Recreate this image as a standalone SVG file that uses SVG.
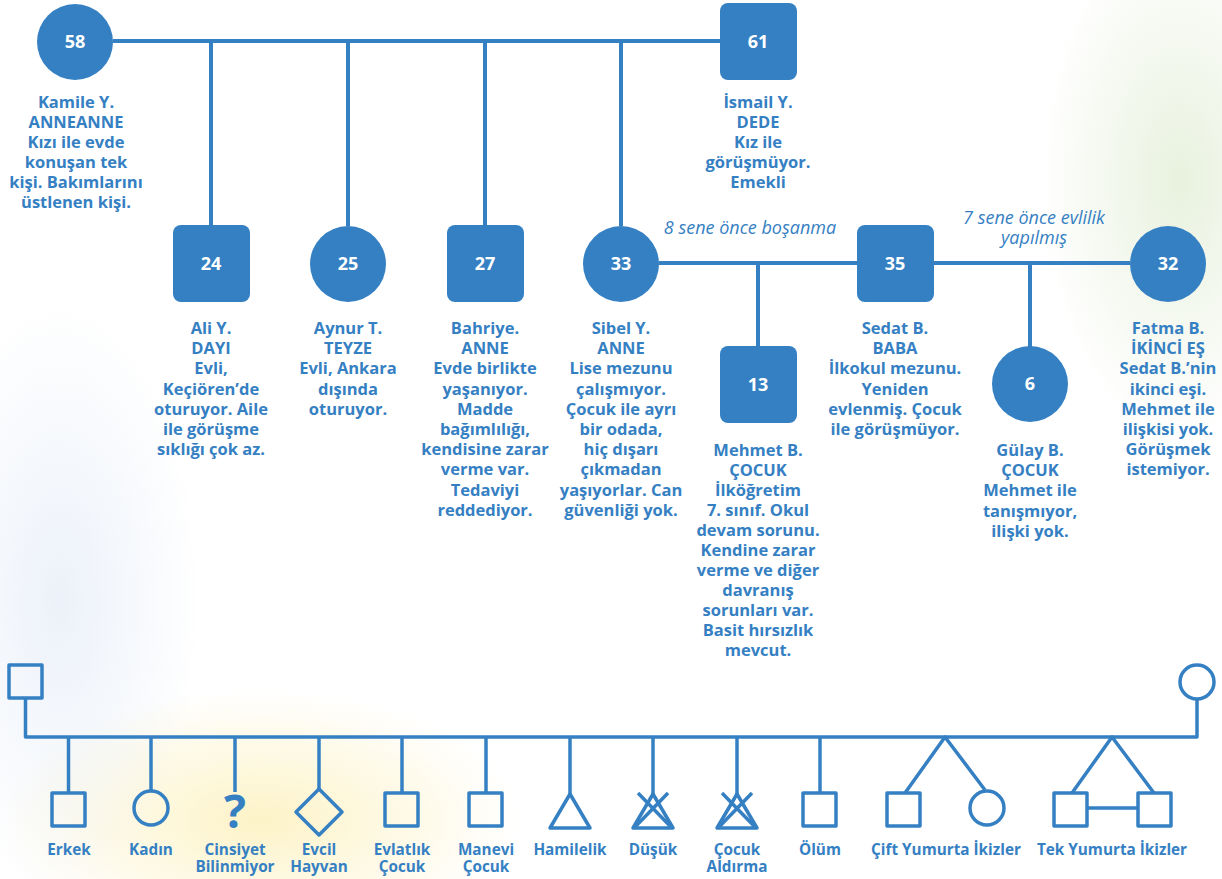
<svg xmlns="http://www.w3.org/2000/svg" width="1222" height="879" viewBox="0 0 1222 879">
<defs>
<style>
.ln{stroke:#3580c3;stroke-width:4;fill:none}
.lg{stroke:#3580c3;stroke-width:3.5;fill:none;stroke-linejoin:round}
.nd{fill:#3580c3}
.num{font-family:"Open Sans",sans-serif;font-weight:700;font-size:18px;fill:#ffffff;text-anchor:middle}
.lbl{font-family:"Open Sans",sans-serif;font-weight:700;font-size:16.5px;fill:#3580c3;text-anchor:middle}
.it{font-family:"Open Sans",sans-serif;font-style:italic;font-size:18px;fill:#3580c3;text-anchor:middle}
.lgt{font-family:"Open Sans",sans-serif;font-weight:700;font-size:15.3px;fill:#3580c3;text-anchor:middle}
</style>
<radialGradient id="gy" cx="0.5" cy="0.5" r="0.5"><stop offset="0" stop-color="#fbe99a" stop-opacity="0.55"/><stop offset="1" stop-color="#fbe99a" stop-opacity="0"/></radialGradient>
<radialGradient id="gg" cx="0.5" cy="0.5" r="0.5"><stop offset="0" stop-color="#d9e8c8" stop-opacity="0.6"/><stop offset="1" stop-color="#d9e8c8" stop-opacity="0"/></radialGradient>
<radialGradient id="gb" cx="0.5" cy="0.5" r="0.5"><stop offset="0" stop-color="#c9d8ef" stop-opacity="0.35"/><stop offset="1" stop-color="#c9d8ef" stop-opacity="0"/></radialGradient>
</defs>
<rect width="1222" height="879" fill="#ffffff"/>
<g id="background">
<ellipse cx="260" cy="820" rx="260" ry="130" fill="url(#gy)"/>
<ellipse cx="1180" cy="180" rx="140" ry="260" fill="url(#gg)"/>
<ellipse cx="60" cy="600" rx="140" ry="300" fill="url(#gb)"/>
</g>
<g id="connectors">
<line class="ln" x1="113" y1="41" x2="720" y2="41"/>
<line class="ln" x1="211" y1="41" x2="211" y2="226"/>
<line class="ln" x1="348" y1="41" x2="348" y2="226"/>
<line class="ln" x1="485" y1="41" x2="485" y2="226"/>
<line class="ln" x1="621" y1="41" x2="621" y2="226"/>
<line class="ln" x1="659" y1="263" x2="857" y2="263"/>
<line class="ln" x1="758" y1="263" x2="758" y2="347"/>
<line class="ln" x1="934" y1="263" x2="1130" y2="263"/>
<line class="ln" x1="1030" y1="263" x2="1030" y2="347"/>
</g>
<g id="n58"><circle class="nd" cx="75" cy="42" r="38"/><text class="num" x="75" y="48">58</text>
<text class="lbl" x="76" y="108">Kamile Y.<tspan x="76" dy="20">ANNEANNE</tspan><tspan x="76" dy="20">Kızı ile evde</tspan><tspan x="76" dy="20">konuşan tek</tspan><tspan x="76" dy="20">kişi. Bakımlarını</tspan><tspan x="76" dy="20">üstlenen kişi.</tspan></text></g>
<g id="n61"><rect class="nd" x="720" y="3" width="77" height="77" rx="8"/><text class="num" x="758" y="48">61</text>
<text class="lbl" x="758" y="108">İsmail Y.<tspan x="758" dy="20">DEDE</tspan><tspan x="758" dy="20">Kız ile</tspan><tspan x="758" dy="20">görüşmüyor.</tspan><tspan x="758" dy="20">Emekli</tspan></text></g>
<g id="n24"><rect class="nd" x="173" y="225" width="77" height="77" rx="8"/><text class="num" x="211" y="270">24</text>
<text class="lbl" x="211" y="334">Ali Y.<tspan x="211" dy="20.2">DAYI</tspan><tspan x="211" dy="20.2">Evli,</tspan><tspan x="211" dy="20.2">Keçiören’de</tspan><tspan x="211" dy="20.2">oturuyor. Aile</tspan><tspan x="211" dy="20.2">ile görüşme</tspan><tspan x="211" dy="20.2">sıklığı çok az.</tspan></text></g>
<g id="n25"><circle class="nd" cx="348" cy="264" r="38"/><text class="num" x="348" y="270">25</text>
<text class="lbl" x="348" y="334">Aynur T.<tspan x="348" dy="20.2">TEYZE</tspan><tspan x="348" dy="20.2">Evli, Ankara</tspan><tspan x="348" dy="20.2">dışında</tspan><tspan x="348" dy="20.2">oturuyor.</tspan></text></g>
<g id="n27"><rect class="nd" x="447" y="225" width="77" height="77" rx="8"/><text class="num" x="485" y="270">27</text>
<text class="lbl" x="485" y="334">Bahriye.<tspan x="485" dy="20.2">ANNE</tspan><tspan x="485" dy="20.2">Evde birlikte</tspan><tspan x="485" dy="20.2">yaşanıyor.</tspan><tspan x="485" dy="20.2">Madde</tspan><tspan x="485" dy="20.2">bağımlılığı,</tspan><tspan x="485" dy="20.2">kendisine zarar</tspan><tspan x="485" dy="20.2">verme var.</tspan><tspan x="485" dy="20.2">Tedaviyi</tspan><tspan x="485" dy="20.2">reddediyor.</tspan></text></g>
<g id="n33"><circle class="nd" cx="621" cy="264" r="38"/><text class="num" x="621" y="270">33</text>
<text class="lbl" x="621" y="334">Sibel Y.<tspan x="621" dy="20.2">ANNE</tspan><tspan x="621" dy="20.2">Lise mezunu</tspan><tspan x="621" dy="20.2">çalışmıyor.</tspan><tspan x="621" dy="20.2">Çocuk ile ayrı</tspan><tspan x="621" dy="20.2">bir odada,</tspan><tspan x="621" dy="20.2">hiç dışarı</tspan><tspan x="621" dy="20.2">çıkmadan</tspan><tspan x="621" dy="20.2">yaşıyorlar. Can</tspan><tspan x="621" dy="20.2">güvenliği yok.</tspan></text></g>
<g id="n35"><rect class="nd" x="857" y="225" width="77" height="77" rx="8"/><text class="num" x="895" y="270">35</text>
<text class="lbl" x="895" y="334">Sedat B.<tspan x="895" dy="20.2">BABA</tspan><tspan x="895" dy="20.2">İlkokul mezunu.</tspan><tspan x="895" dy="20.2">Yeniden</tspan><tspan x="895" dy="20.2">evlenmiş. Çocuk</tspan><tspan x="895" dy="20.2">ile görüşmüyor.</tspan></text></g>
<g id="n32"><circle class="nd" cx="1168" cy="264" r="38"/><text class="num" x="1168" y="270">32</text>
<text class="lbl" x="1168" y="334">Fatma B.<tspan x="1168" dy="20.2">İKİNCİ EŞ</tspan><tspan x="1168" dy="20.2">Sedat B.’nin</tspan><tspan x="1168" dy="20.2">ikinci eşi.</tspan><tspan x="1168" dy="20.2">Mehmet ile</tspan><tspan x="1168" dy="20.2">ilişkisi yok.</tspan><tspan x="1168" dy="20.2">Görüşmek</tspan><tspan x="1168" dy="20.2">istemiyor.</tspan></text></g>
<g id="n13"><rect class="nd" x="720" y="346" width="77" height="77" rx="8"/><text class="num" x="758" y="391">13</text>
<text class="lbl" x="758" y="456">Mehmet B.<tspan x="758" dy="20">ÇOCUK</tspan><tspan x="758" dy="20">İlköğretim</tspan><tspan x="758" dy="20">7. sınıf. Okul</tspan><tspan x="758" dy="20">devam sorunu.</tspan><tspan x="758" dy="20">Kendine zarar</tspan><tspan x="758" dy="20">verme ve diğer</tspan><tspan x="758" dy="20">davranış</tspan><tspan x="758" dy="20">sorunları var.</tspan><tspan x="758" dy="20">Basit hırsızlık</tspan><tspan x="758" dy="20">mevcut.</tspan></text></g>
<g id="n6"><circle class="nd" cx="1030" cy="384" r="38"/><text class="num" x="1030" y="390">6</text>
<text class="lbl" x="1030" y="456">Gülay B.<tspan x="1030" dy="20.2">ÇOCUK</tspan><tspan x="1030" dy="20.2">Mehmet ile</tspan><tspan x="1030" dy="20.2">tanışmıyor,</tspan><tspan x="1030" dy="20.2">ilişki yok.</tspan></text></g>
<g id="rel-labels">
<text class="it" x="750" y="234">8 sene önce boşanma</text>
<text class="it" x="1034" y="224">7 sene önce evlilik<tspan x="1034" dy="20">yapılmış</tspan></text>
</g>
<g id="legend">
<rect class="lg" x="9" y="665" width="33" height="33"/>
<circle class="lg" cx="1197" cy="682" r="17"/>
<polyline class="lg" points="25.5,698 25.5,737 1197,737 1197,699"/>
<line class="lg" x1="68.5" y1="737" x2="68.5" y2="793"/>
<line class="lg" x1="151" y1="737" x2="151" y2="790"/>
<line class="lg" x1="235" y1="737" x2="235" y2="792"/>
<line class="lg" x1="319" y1="737" x2="319" y2="789"/>
<line class="lg" x1="402" y1="737" x2="402" y2="793"/>
<line class="lg" x1="486" y1="737" x2="486" y2="793"/>
<line class="lg" x1="570" y1="737" x2="570" y2="794"/>
<line class="lg" x1="653" y1="737" x2="653" y2="794"/>
<line class="lg" x1="737" y1="737" x2="737" y2="794"/>
<line class="lg" x1="820" y1="737" x2="820" y2="793"/>
<rect class="lg" x="52" y="793" width="33" height="33"/>
<circle class="lg" cx="151" cy="808" r="17"/>
<text x="235" y="828" style="font-family:'Open Sans',sans-serif;font-weight:700;font-size:46px;fill:#3580c3;text-anchor:middle">?</text>
<polygon class="lg" points="319,789 342,812 319,835 296,812"/>
<rect class="lg" x="385" y="793" width="33" height="33"/>
<rect class="lg" x="469" y="793" width="33" height="33"/>
<polygon class="lg" points="570,794 550,828 590,828"/>
<polygon class="lg" points="653,794 633,828 673,828"/>
<line class="lg" x1="638" y1="793" x2="672" y2="828"/>
<line class="lg" x1="668" y1="793" x2="634" y2="828"/>
<polygon class="lg" points="737,794 717,828 757,828"/>
<line class="lg" x1="722" y1="793" x2="756" y2="828"/>
<line class="lg" x1="752" y1="793" x2="718" y2="828"/>
<rect class="lg" x="803" y="793" width="33" height="33"/>
<polyline class="lg" points="905,793 945,737 985,790"/>
<rect class="lg" x="887" y="793" width="33" height="33"/>
<circle class="lg" cx="987" cy="808" r="17"/>
<polyline class="lg" points="1072,793 1112,737 1154,793"/>
<rect class="lg" x="1054" y="793" width="33" height="33"/>
<rect class="lg" x="1138" y="793" width="33" height="33"/>
<line class="lg" x1="1087" y1="808" x2="1138" y2="808"/>
<text class="lgt" x="69" y="855">Erkek</text>
<text class="lgt" x="151" y="855">Kadın</text>
<text class="lgt" x="235" y="855">Cinsiyet<tspan x="235" dy="17">Bilinmiyor</tspan></text>
<text class="lgt" x="319" y="855">Evcil<tspan x="319" dy="17">Hayvan</tspan></text>
<text class="lgt" x="402" y="855">Evlatlık<tspan x="402" dy="17">Çocuk</tspan></text>
<text class="lgt" x="486" y="855">Manevi<tspan x="486" dy="17">Çocuk</tspan></text>
<text class="lgt" x="570" y="855">Hamilelik</text>
<text class="lgt" x="653" y="855">Düşük</text>
<text class="lgt" x="737" y="855">Çocuk<tspan x="737" dy="17">Aldırma</tspan></text>
<text class="lgt" x="820" y="855">Ölüm</text>
<text class="lgt" x="946" y="855">Çift Yumurta İkizler</text>
<text class="lgt" x="1112" y="855">Tek Yumurta İkizler</text>
</g>
</svg>
